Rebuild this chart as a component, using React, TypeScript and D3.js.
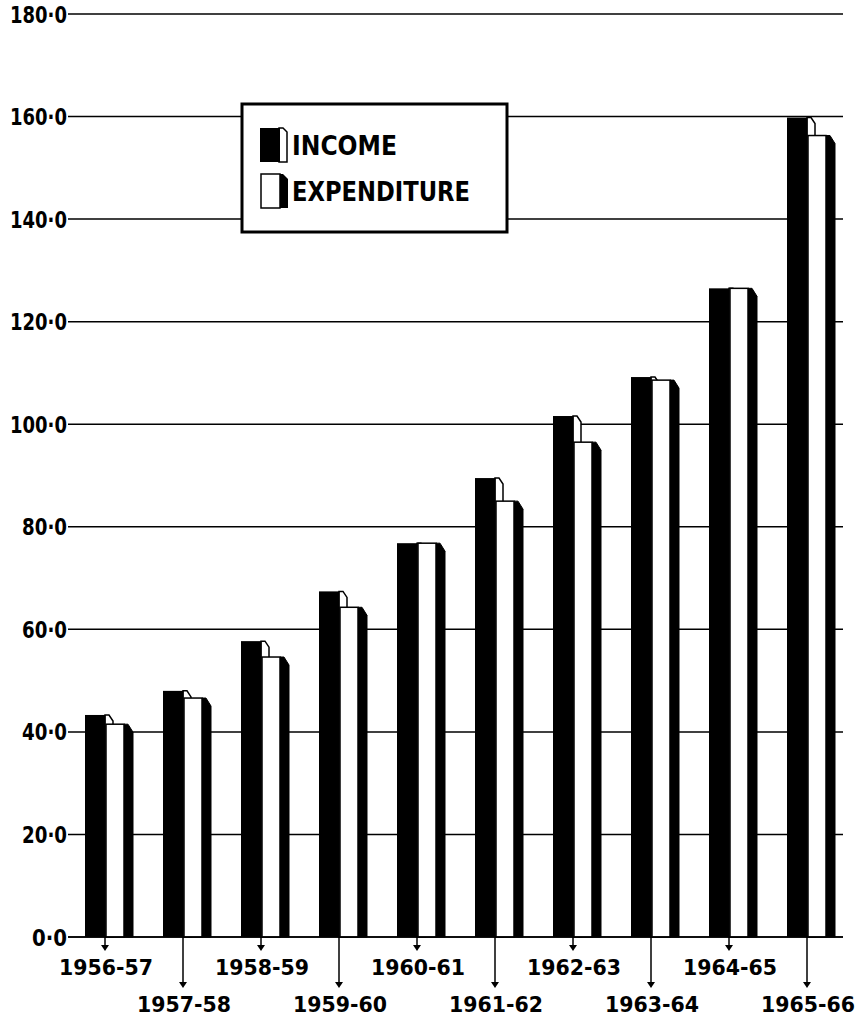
import React, { useEffect, useRef } from 'react';
import * as d3 from 'd3';

// Values (millions)
const years = ['1956-57', '1957-58', '1958-59', '1959-60', '1960-61', '1961-62', '1962-63', '1963-64', '1964-65', '1965-66'];
const income = [43.3, 48.0, 57.7, 67.4, 76.8, 89.5, 101.6, 109.2, 126.5, 159.8];
const expenditure = [41.5, 46.6, 54.6, 64.3, 76.8, 85.0, 96.5, 108.6, 126.5, 156.3];
const yTicks = [0, 20, 40, 60, 80, 100, 120, 140, 160, 180];

const FONT = '"DejaVu Sans", sans-serif';

const App: React.FC = () => {
  const ref = useRef<SVGSVGElement | null>(null);

  useEffect(() => {
    if (!ref.current) return;
    document.body.style.margin = '0';

    const width = 861;
    const height = 1022;
    const svg = d3.select(ref.current).attr('width', width).attr('height', height);
    svg.selectAll('*').remove();

    const yScale = d3.scaleLinear().domain([0, 180]).range([937, 14]);
    const xScale = d3.scaleBand().domain(years).range([68, 848]);
    const base = yScale(0);

    // gridlines
    svg.append('g')
      .selectAll('line')
      .data(yTicks)
      .enter().append('line')
      .attr('x1', 68)
      .attr('x2', 843)
      .attr('y1', (d) => yScale(d))
      .attr('y2', (d) => yScale(d))
      .attr('stroke', '#000')
      .attr('stroke-width', 1.5);

    // y labels
    svg.append('g')
      .selectAll('text')
      .data(yTicks)
      .enter().append('text')
      .attr('x', 67)
      .attr('y', (d) => yScale(d) + 8.5)
      .attr('text-anchor', 'end')
      .attr('font-family', FONT)
      .attr('font-weight', 'bold')
      .attr('font-size', 23)
      .attr('textLength', (d) => (d >= 100 ? 57 : d >= 10 ? 45 : 35))
      .attr('lengthAdjust', 'spacingAndGlyphs')
      .text((d) => `${d}\u00B70`);

    // bars
    const groups = svg.append('g')
      .selectAll('g')
      .data(years.map((y, i) => ({ year: y, inc: income[i], exp: expenditure[i] })))
      .enter().append('g')
      .attr('transform', (d) => `translate(${(xScale(d.year) || 0) + 17},0)`);

    // income side (white, outlined) sitting behind the expenditure bar
    groups.append('path')
      .attr('d', (d) => {
        const yI = yScale(d.inc);
        return `M20,${yI} L24,${yI} L28,${yI + 6} L28,${base} L20,${base} Z`;
      })
      .attr('fill', '#fff')
      .attr('stroke', '#000')
      .attr('stroke-width', 1.5);

    groups.append('rect')
      .attr('x', 0)
      .attr('y', (d) => yScale(d.inc))
      .attr('width', 20.5)
      .attr('height', (d) => base - yScale(d.inc))
      .attr('fill', '#000');

    // expenditure side (black)
    groups.append('path')
      .attr('d', (d) => {
        const yE = yScale(d.exp);
        return `M39,${yE} L43,${yE} L48,${yE + 8} L48,${base} L39,${base} Z`;
      })
      .attr('fill', '#000')
      .attr('stroke', '#000')
      .attr('stroke-width', 1);

    groups.append('rect')
      .attr('x', 21)
      .attr('y', (d) => yScale(d.exp))
      .attr('width', 18)
      .attr('height', (d) => base - yScale(d.exp))
      .attr('fill', '#fff')
      .attr('stroke', '#000')
      .attr('stroke-width', 1.5);

    // baseline
    svg.append('line')
      .attr('x1', 68).attr('x2', 843)
      .attr('y1', base).attr('y2', base)
      .attr('stroke', '#000').attr('stroke-width', 1.5);

    // category arrows and labels
    const ticks = svg.append('g')
      .selectAll('g')
      .data(years)
      .enter().append('g')
      .attr('transform', (d) => `translate(${(xScale(d) || 0) + 37},0)`);

    const tip = (i: number) => (i % 2 === 0 ? 951 : 988);

    ticks.append('line')
      .attr('x1', 0).attr('x2', 0)
      .attr('y1', base)
      .attr('y2', (_d, i) => tip(i) - 3)
      .attr('stroke', '#000')
      .attr('stroke-width', 1.5);

    ticks.append('path')
      .attr('d', (_d, i) => `M-4,${tip(i) - 6} L4,${tip(i) - 6} L0,${tip(i)} Z`)
      .attr('fill', '#000');

    ticks.append('text')
      .attr('x', 1)
      .attr('y', (_d, i) => (i % 2 === 0 ? 975 : 1012))
      .attr('text-anchor', 'middle')
      .attr('font-family', FONT)
      .attr('font-weight', 'bold')
      .attr('font-size', 22)
      .attr('textLength', 94)
      .attr('lengthAdjust', 'spacingAndGlyphs')
      .text((d) => d);

    // legend
    const legend = svg.append('g');
    legend.append('rect')
      .attr('x', 242).attr('y', 104)
      .attr('width', 265).attr('height', 128)
      .attr('fill', '#fff')
      .attr('stroke', '#000')
      .attr('stroke-width', 3);

    // income swatch
    legend.append('path')
      .attr('d', 'M279,128 L283,128 L287,132 L287,162 L279,162 Z')
      .attr('fill', '#fff').attr('stroke', '#000').attr('stroke-width', 1.5);
    legend.append('rect')
      .attr('x', 260).attr('y', 128).attr('width', 20).attr('height', 34)
      .attr('fill', '#000');

    // expenditure swatch
    legend.append('path')
      .attr('d', 'M279,174 L283,174 L288,179 L288,208 L279,208 Z')
      .attr('fill', '#000');
    legend.append('rect')
      .attr('x', 261).attr('y', 174).attr('width', 19).attr('height', 34)
      .attr('fill', '#fff').attr('stroke', '#000').attr('stroke-width', 1.5);

    const legendItems = [
      { label: 'INCOME', y: 155, len: 105 },
      { label: 'EXPENDITURE', y: 201, len: 178 },
    ];
    legend.selectAll('text.item')
      .data(legendItems)
      .enter().append('text')
      .attr('class', 'item')
      .attr('x', 292)
      .attr('y', (d) => d.y)
      .attr('font-family', FONT)
      .attr('font-weight', 'bold')
      .attr('font-size', 26)
      .attr('textLength', (d) => d.len)
      .attr('lengthAdjust', 'spacingAndGlyphs')
      .text((d) => d.label);
  }, []);

  return <svg ref={ref} style={{ display: 'block', background: '#fff' }}></svg>;
};

export default App;
